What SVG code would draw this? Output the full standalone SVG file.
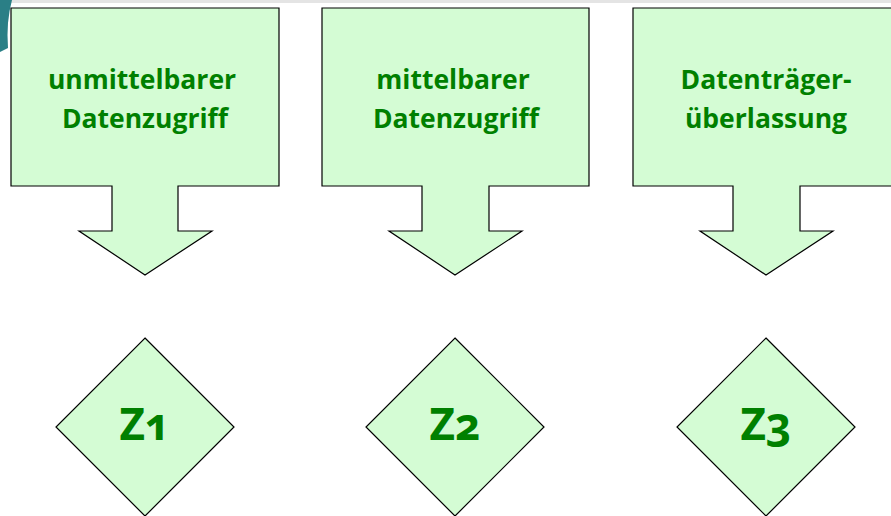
<svg xmlns="http://www.w3.org/2000/svg" width="891" height="516" viewBox="0 0 891 516">
<style>
.shape{fill:#d4fcd4;stroke:#000;stroke-width:1.2;stroke-linejoin:miter}
.lbl{font-family:"Open Sans","Liberation Sans",sans-serif;font-weight:bold;font-size:26.5px;fill:#008000;text-anchor:middle}
.z{font-family:"Open Sans","Noto Sans","Liberation Sans",sans-serif;font-weight:bold;font-size:44px;fill:#008000;text-anchor:middle;font-variant-numeric:oldstyle-nums}
</style>
<rect width="891" height="516" fill="#fff"/>
<rect x="0" y="0" width="891" height="3" fill="#e4e4e4"/>
<path d="M0,0 L12,0 Q6,22 8,48 L0,52 Z" fill="#2a7f86"/>
<g id="node1">
<path class="shape" d="M11,8 H279 V186 H178 V231 H212 L145,275 L79,231 H112 V186 H11 Z"/>
<text class="lbl" x="142" y="89">unmittelbarer</text>
<text class="lbl" x="145" y="128">Datenzugriff</text>
</g>
<g id="node2">
<path class="shape" d="M322,8 H589 V186 H489 V231 H522 L455,275 L389,231 H422 V186 H322 Z"/>
<text class="lbl" x="453" y="89">mittelbarer</text>
<text class="lbl" x="456" y="128">Datenzugriff</text>
</g>
<g id="node3">
<path class="shape" d="M633,8 H900 V186 H800 V231 H833 L766,275 L700,231 H733 V186 H633 Z"/>
<text class="lbl" x="766" y="89">Datenträger-</text>
<text class="lbl" x="766" y="128">überlassung</text>
</g>
<g id="z1">
<path class="shape" d="M145,338 L234,427 L145,516 L56,427 Z"/>
<text class="z" x="145" y="440">Z1</text>
</g>
<g id="z2">
<path class="shape" d="M455,338 L544,427 L455,516 L366,427 Z"/>
<text class="z" x="455" y="440">Z2</text>
</g>
<g id="z3">
<path class="shape" d="M766,338 L855,427 L766,516 L677,427 Z"/>
<text class="z" x="766" y="440">Z3</text>
</g>
<g id="connectors"></g>
</svg>
